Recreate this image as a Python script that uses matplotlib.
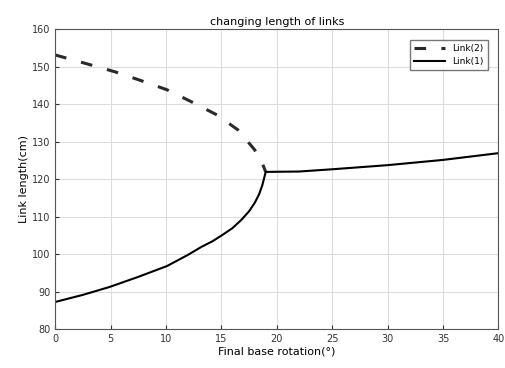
import numpy as np
import matplotlib.pyplot as plt

# values
x_upper = [0, 2.9, 5.4, 7.8, 10.1, 12.3, 14.6, 16.5, 18.0, 18.6, 19]
y_upper = [153.2, 150.8, 148.7, 146.3, 143.9, 140.7, 137.2, 133.2, 127.9, 125.0, 122.0]

x_lower = [0, 2.5, 4.9, 7.5, 10.1, 12.0, 13.2, 14.2, 15.1, 16.0, 16.8, 17.5, 18.0, 18.4, 18.7, 19]
y_lower = [87.3, 89.2, 91.3, 94.0, 96.9, 99.9, 102.0, 103.5, 105.2, 107.0, 109.2, 111.5, 113.7, 116.0, 118.5, 122.0]

x_after = [19, 22, 25, 30, 35, 40]
y_after = [121.6, 122.1, 122.7, 123.8, 125.2, 127.0]

fig = plt.figure(figsize=(5.06, 3.68), dpi=100)
ax = fig.add_axes([0.109, 0.105, 0.876, 0.815])

ax.plot(x_upper, y_upper, '--', color='#2a2a2a', lw=2.2, dashes=(3.8, 5.0), label='Link(2)')
ax.plot(x_lower + x_after[1:], y_lower + y_after[1:], '-', color='black', lw=1.5, label='Link(1)')

ax.set_xlim(0, 40)
ax.set_ylim(80, 160)
ax.set_xticks(np.arange(0, 41, 5))
ax.set_yticks(np.arange(80, 161, 10))
ax.tick_params(direction='in', labelsize=7, length=3, colors='#333333')
ax.grid(True, color='#dddddd', lw=0.8)
for s in ax.spines.values():
    s.set_color('#555555')
    s.set_linewidth(0.8)

ax.set_title('changing length of links', fontsize=8, pad=3)
ax.set_xlabel('Final base rotation(°)', fontsize=8, labelpad=2)
ax.set_ylabel('Link length(cm)', fontsize=8, labelpad=2)
ax.legend(loc='upper right', fontsize=6.5, fancybox=False, edgecolor='#555555',
          handlelength=3.5, borderaxespad=1.2)

fig.savefig('out.png', dpi=100)
